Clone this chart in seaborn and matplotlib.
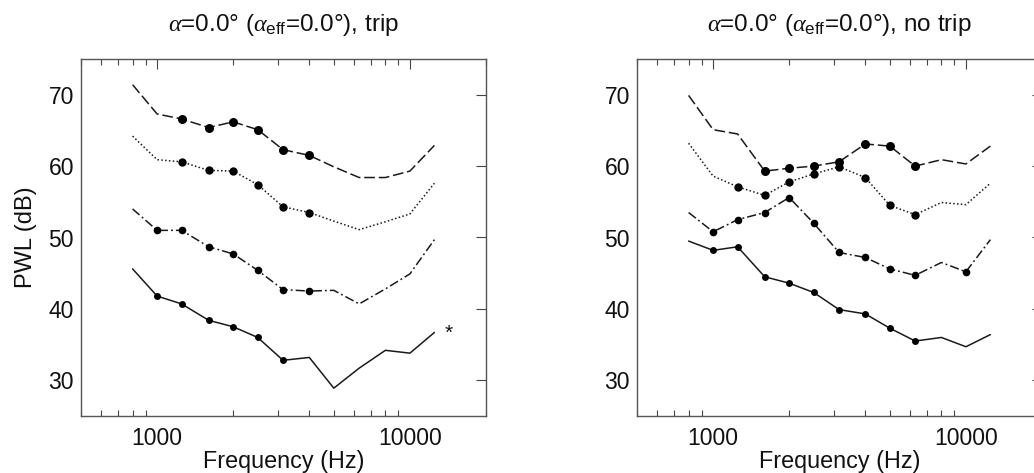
import numpy as np
import pandas as pd
import matplotlib
matplotlib.use("Agg")
import matplotlib.pyplot as plt
import matplotlib.ticker as mticker
import seaborn as sns

freqs = [800, 1000, 1250, 1600, 2000, 2500, 3150, 4000, 5000, 6300, 8000, 10000, 12500]

# Left panel (trip)
trip_dash = [71.4, 67.3, 66.6, 65.4, 66.2, 65.1, 62.3, 61.5, 59.9, 58.4, 58.4, 59.3, 62.9]
trip_dot = [64.2, 60.9, 60.6, 59.4, 59.3, 57.4, 54.3, 53.5, 52.3, 51.1, 52.2, 53.3, 57.6]
trip_dashdot = [54.0, 51.0, 51.0, 48.7, 47.7, 45.4, 42.7, 42.5, 42.6, 40.7, 42.8, 44.9, 49.7]
trip_solid = [45.6, 41.8, 40.7, 38.4, 37.5, 36.0, 32.8, 33.2, 28.9, 31.7, 34.2, 33.8, 36.7]
trip_dash_dots = [1250, 1600, 2000, 2500, 3150, 4000]
trip_dot_dots = [1250, 1600, 2000, 2500, 3150, 4000]
trip_dashdot_dots = [1000, 1250, 1600, 2000, 2500, 3150, 4000]
trip_solid_dots = [1000, 1250, 1600, 2000, 2500, 3150]

# Right panel (no trip)
notrip_dash = [69.9, 65.1, 64.5, 59.3, 59.7, 60.0, 60.6, 63.1, 62.8, 60.0, 60.9, 60.3, 62.8]
notrip_dot = [63.2, 58.6, 57.1, 55.9, 57.8, 58.9, 59.9, 58.4, 54.5, 53.2, 54.9, 54.6, 57.6]
notrip_dashdot = [53.5, 50.8, 52.5, 53.5, 55.6, 52.0, 47.9, 47.2, 45.6, 44.7, 46.5, 45.2, 49.7]
notrip_solid = [49.5, 48.2, 48.7, 44.5, 43.6, 42.3, 39.9, 39.3, 37.3, 35.5, 36.0, 34.7, 36.4]
notrip_dash_dots = [1600, 2000, 2500, 3150, 4000, 5000, 6300]
notrip_dot_dots = [1250, 1600, 2000, 2500, 3150, 4000, 5000, 6300]
notrip_dashdot_dots = [1000, 1250, 1600, 2000, 2500, 3150, 4000, 5000, 6300, 10000]
notrip_solid_dots = [1000, 1250, 1600, 2000, 2500, 3150, 4000, 5000, 6300]

titles = ["$\\alpha$=0.0° ($\\alpha_{\\mathregular{eff}}$=0.0°), trip",
          "$\\alpha$=0.0° ($\\alpha_{\\mathregular{eff}}$=0.0°), no trip"]
asterisk = (14250, 36.6)

sns.set_theme(style="white")
plt.rcParams['font.family'] = ['Liberation Sans', 'DejaVu Sans']
plt.rcParams['mathtext.fontset'] = 'custom'
plt.rcParams['mathtext.rm'] = 'Liberation Sans'
plt.rcParams['mathtext.it'] = 'Liberation Serif:italic'

fig = plt.figure(figsize=(10.34, 4.73), dpi=100)
ax1 = fig.add_axes([81/1034, 57/473, 405/1034, 357/473])
ax2 = fig.add_axes([637/1034, 57/473, 405/1034, 357/473])

styles = [(0, (7, 2.5)), (0, (1, 1.5)), (0, (6, 2, 1.2, 2)), "-"]
msizes = [6.5, 6, 5.5, 5]

panels = [
    (ax1, [trip_dash, trip_dot, trip_dashdot, trip_solid],
     [trip_dash_dots, trip_dot_dots, trip_dashdot_dots, trip_solid_dots]),
    (ax2, [notrip_dash, notrip_dot, notrip_dashdot, notrip_solid],
     [notrip_dash_dots, notrip_dot_dots, notrip_dashdot_dots, notrip_solid_dots]),
]

for pi, (ax, series, dots) in enumerate(panels):
    for si, (vals, dd) in enumerate(zip(series, dots)):
        df = pd.DataFrame({"f": freqs, "v": vals})
        sns.lineplot(data=df, x="f", y="v", ax=ax, color="#1a1a1a", lw=1.1)
        ax.lines[-1].set_linestyle(styles[si])
        dfd = df[df["f"].isin(dd)]
        sns.scatterplot(data=dfd, x="f", y="v", ax=ax, color="black", s=msizes[si]**2,
                        edgecolor="black", linewidth=0, zorder=3)
    ax.set_xscale("log")
    ax.set_xlim(500, 20000)
    ax.set_ylim(25, 75)
    ax.set_yticks([30, 40, 50, 60, 70])
    ax.xaxis.set_major_locator(mticker.FixedLocator([1000, 10000]))
    ax.xaxis.set_major_formatter(mticker.FixedFormatter(["1000", "10000"]))
    ax.xaxis.set_minor_locator(mticker.LogLocator(base=10, subs=np.arange(2, 10)))
    ax.xaxis.set_minor_formatter(mticker.NullFormatter())
    ax.tick_params(axis="both", which="major", direction="in", top=True, right=True,
                   length=7, width=0.8, color="#444444", labelsize=16.5, labelcolor="#111111", pad=5)
    ax.tick_params(axis="x", which="major", pad=8)
    ax.tick_params(axis="x", which="minor", direction="in", top=True, bottom=True,
                   length=4, width=0.8, color="#444444")
    for sp in ax.spines.values():
        sp.set_color("#555555")
        sp.set_linewidth(1.0)
    ax.set_xlabel("Frequency (Hz)", fontsize=16.8, labelpad=0, color="#111111")
    ax.set_ylabel("")
    ax.set_title(titles[pi], fontsize=17.5, pad=20, color="#111111")

ax1.set_ylabel("PWL (dB)", fontsize=17, color="#111111", labelpad=8)
ax1.text(asterisk[0], asterisk[1], "*", fontsize=15, ha="center", va="center", color="#111111")

fig.savefig("out.png", dpi=100)
